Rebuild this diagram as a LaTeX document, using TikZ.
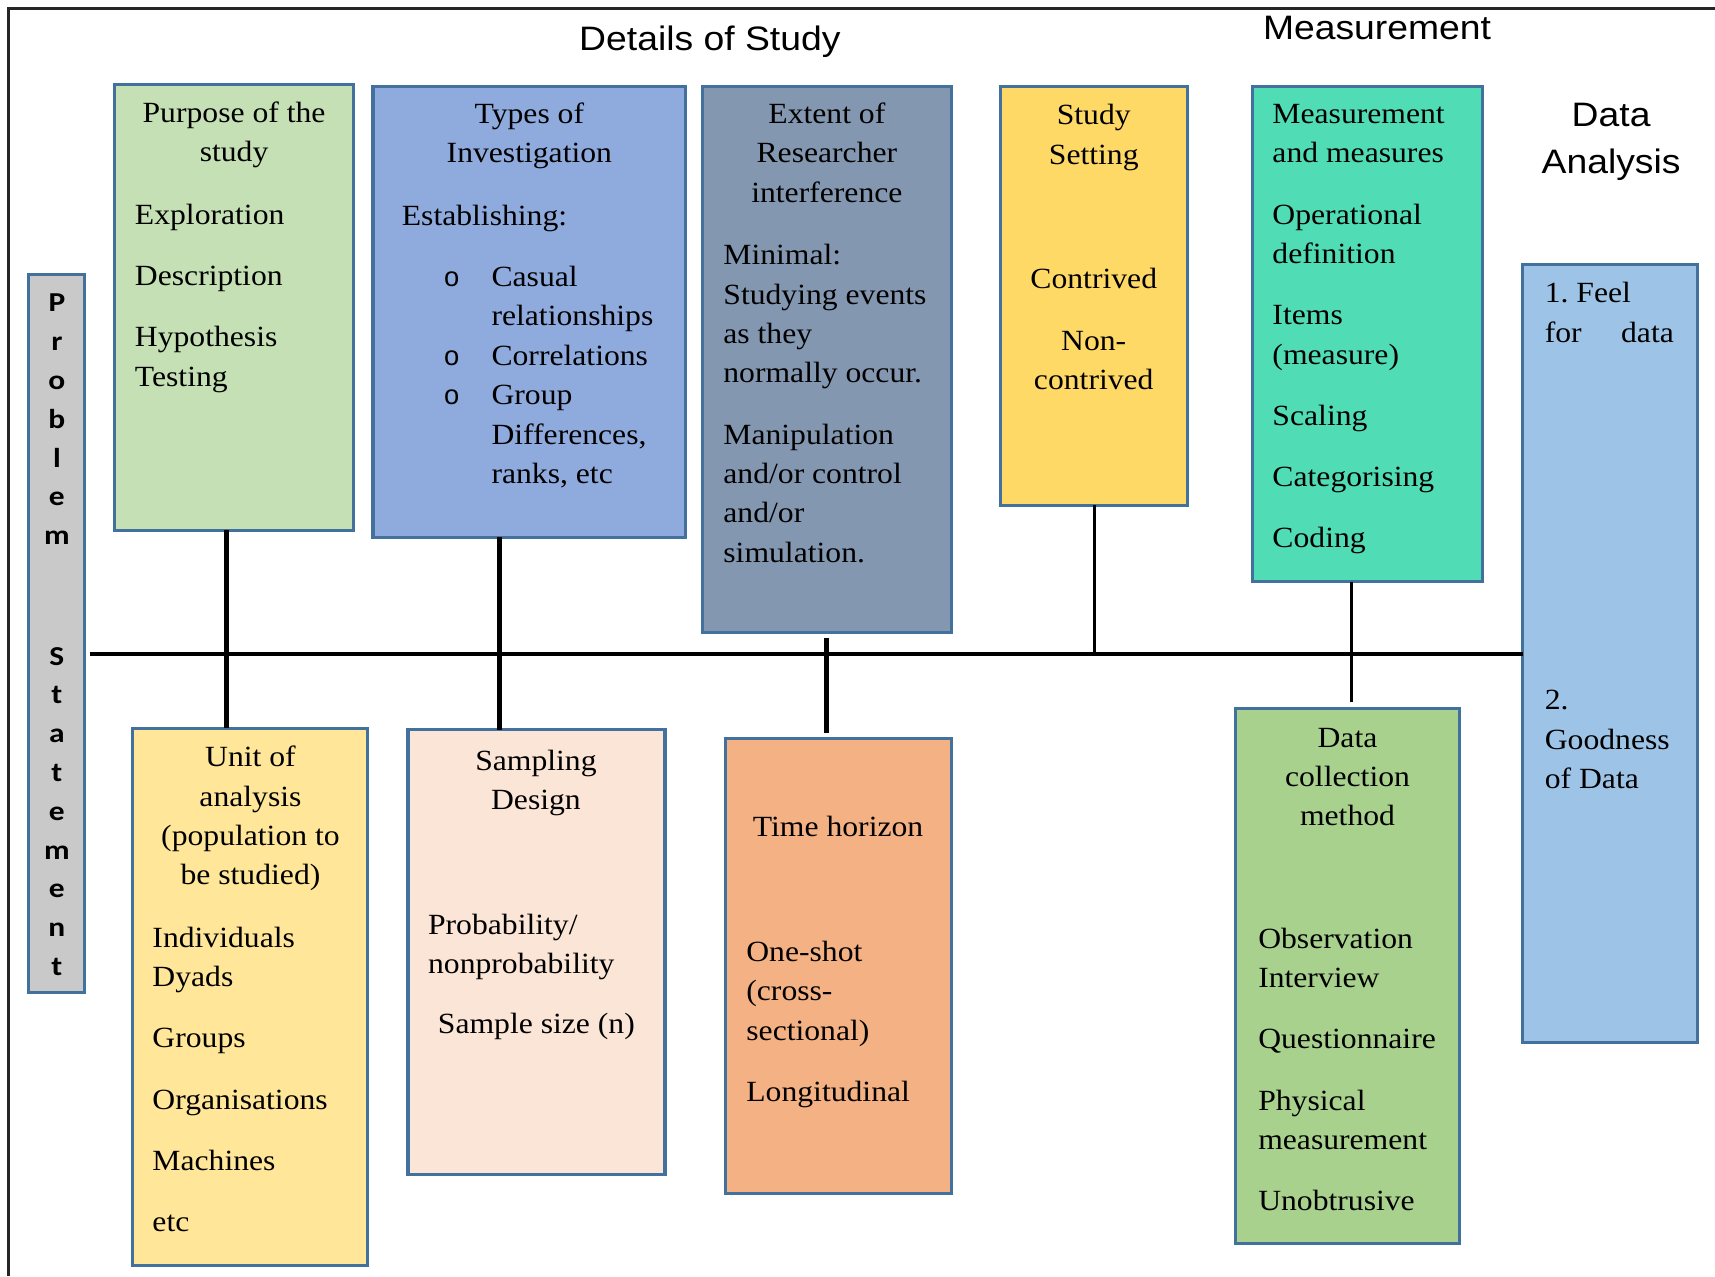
\documentclass[tikz,border=0pt]{standalone}
\usepackage{fontspec}
\setmainfont{Liberation Serif}[FakeStretch=1.08]
\newfontfamily\headsans{Liberation Sans}[FakeStretch=1.1]
\newfontfamily\sidesans{Carlito}[FakeStretch=1.15]
\newfontfamily\bulletfont{Liberation Sans}

\definecolor{edgeblue}{HTML}{41719C}
\definecolor{probgray}{HTML}{C9C9C9}
\definecolor{purposegreen}{HTML}{C5E0B4}
\definecolor{typesblue}{HTML}{8FAADC}
\definecolor{extentslate}{HTML}{8497B0}
\definecolor{settingyellow}{HTML}{FFD966}
\definecolor{measuremint}{HTML}{50DCB4}
\definecolor{analysisblue}{HTML}{9DC3E6}
\definecolor{unityellow}{HTML}{FFE699}
\definecolor{samplingpeach}{HTML}{FBE5D6}
\definecolor{timeorange}{HTML}{F4B183}
\definecolor{collectgreen}{HTML}{A9D18E}

\newcommand\bodysize{\frenchspacing\fontsize{13.4}{18}\selectfont}
\newcommand\leftcol[2]{\parbox[t]{#1}{\raggedright #2}}
\newcommand\midcol[2]{\parbox[t]{#1}{\centering #2}}

\begin{document}
\begin{tikzpicture}[x=0.5pt, y=-0.5pt,
  panel/.style={draw=edgeblue, line width=1.4pt, inner sep=0pt, outer sep=0pt, anchor=north west},
  body/.style={inner sep=0pt, anchor=base west, font=\bodysize},
  head/.style={inner sep=0pt, anchor=base, font=\bodysize},
  title/.style={inner sep=0pt, anchor=base, font=\headsans\fontsize{15.5}{21.5}\selectfont},
  spine/.style={line width=1.8pt},
  linkthick/.style={line width=2.3pt},
  linkthin/.style={line width=1.4pt}]

\useasboundingbox (0,0) rectangle (1568,1167);

% outer frame (top and left edges)
\draw[line width=1.5pt, black!85] (8,1167) -- (8,8) -- (1568,8);

% headings
\node[title] (details) at (649,46) {Details of Study};
\node[title] (measurement) at (1259,36) {Measurement};
\node[title] (dataanalysis) at (1473,116) {\midcol{80pt}{Data\\Analysis}};

% upper panels
\node[panel, fill=purposegreen, minimum width=109pt, minimum height=204pt] (purpose) at (105,77) {};
\node[panel, fill=typesblue, minimum width=143pt, minimum height=206pt] (types) at (341,79) {};
\node[panel, fill=extentslate, minimum width=114pt, minimum height=249.5pt] (extent) at (642,79) {};
\node[panel, fill=settingyellow, minimum width=85.5pt, minimum height=191.5pt] (setting) at (915,79) {};
\node[panel, fill=measuremint, minimum width=105pt, minimum height=226.5pt] (measure) at (1145,79) {};
\node[panel, fill=analysisblue, minimum width=80pt, minimum height=355.5pt] (analysis) at (1392,242) {};
\node[panel, fill=probgray, minimum width=25.5pt, minimum height=328pt] (problem) at (26,251) {};

% lower panels
\node[panel, fill=unityellow, minimum width=107.5pt, minimum height=245.5pt] (unit) at (121,666) {};
\node[panel, fill=samplingpeach, minimum width=117.5pt, minimum height=203.5pt] (sampling) at (373,667) {};
\node[panel, fill=timeorange, minimum width=103.5pt, minimum height=208pt] (time) at (663,675) {};
\node[panel, fill=collectgreen, minimum width=102pt, minimum height=244.5pt] (collect) at (1130,648) {};

% central spine and its branches
\coordinate (spinestart) at (82,598);
\draw[spine] (spinestart) -- (spinestart -| analysis.west);

\coordinate (purposefoot) at ([xshift=-3.5pt]purpose.south);
\draw[linkthick] (purposefoot) -- (purposefoot |- unit.north);
\coordinate (typesfoot) at ([xshift=-13.5pt]types.south);
\draw[linkthick] (typesfoot) -- (typesfoot |- sampling.north);
\coordinate (extentfoot) at ([yshift=-2.5pt]extent.south);
\coordinate (timetop) at ([yshift=2.5pt]extentfoot |- time.north);
\draw[linkthick] (extentfoot) -- (timetop);
\draw[linkthin] (setting.south) -- (setting.south |- spinestart);
\coordinate (measurefoot) at ([xshift=-7pt]measure.south);
\coordinate (collecttop) at ([yshift=3pt]measurefoot |- collect.north);
\draw[linkthin] (measurefoot) -- (collecttop);

% problem statement, written letter by letter
\node[inner sep=0pt, anchor=base, font=\sidesans\bfseries\fontsize{12.5}{17.75}\selectfont] (problemtext) at (52,285)
  {\midcol{14pt}{P\\r\\o\\b\\l\\e\\m\\[37.25pt]S\\t\\a\\t\\e\\m\\e\\n\\t}};

% purpose of the study
\node[head] (purposehead) at (214,112) {\midcol{105pt}{Purpose of the\\study}};
\node[body] (purposebody) at (123,205) {\leftcol{100pt}{Exploration\\[10pt]Description\\[10pt]Hypothesis\\Testing}};

% types of investigation
\node[head] (typeshead) at (484,113) {\midcol{130pt}{Types of\\Investigation}};
\node[body] (typesintro) at (367,206) {Establishing:};
\node[inner sep=0pt, anchor=base, font=\bulletfont\fontsize{12.5}{18}\selectfont] (typesbullets) at (413,262)
  {\midcol{10pt}{o\\\mbox{}\\o\\o}};
\node[body] (typesbody) at (449,262) {\leftcol{85pt}{Casual\\relationships\\Correlations\\Group\\Differences,\\ranks, etc}};

% extent of researcher interference
\node[head] (extenthead) at (756,113) {\midcol{110pt}{Extent of\\Researcher\\interference}};
\node[body] (extentbody) at (661,242) {\leftcol{104pt}{Minimal:\\Studying events\\as they\\normally occur.\\[10pt]Manipulation\\and/or control\\and/or\\simulation.}};

% study setting
\node[head] (settinghead) at (1000,114) {\midcol{80pt}{Study\\Setting\\[39pt]Contrived\\[10pt]Non-\\contrived}};

% measurement and measures
\node[body] (measurebody) at (1163,113) {\leftcol{95pt}{Measurement\\and measures\\[10pt]Operational\\definition\\[10pt]Items\\(measure)\\[10pt]Scaling\\[10pt]Categorising\\[10pt]Coding}};

% data analysis
\node[body] (feel) at (1412,277) {\leftcol{59pt}{1. Feel\\\hbox to 59pt{for\hfill data}}};
\node[body] (goodness) at (1412,649) {\leftcol{59pt}{2.\\Goodness\\of Data}};

% unit of analysis
\node[head] (unithead) at (229,701) {\midcol{105pt}{Unit of\\analysis\\(population to\\be studied)}};
\node[body] (unitbody) at (139,866) {\leftcol{95pt}{Individuals\\Dyads\\[10pt]Groups\\[10pt]Organisations\\[10pt]Machines\\[10pt]etc}};

% sampling design
\node[head] (samplinghead) at (490,704) {\midcol{110pt}{Sampling\\Design}};
\node[body] (samplingprob) at (391,854) {\leftcol{105pt}{Probability/\\nonprobability}};
\node[body] (samplingsize) at (400,945) {Sample size (n)};

% time horizon
\node[body] (timehead) at (688,765) {Time horizon};
\node[body] (timebody) at (682,879) {\leftcol{95pt}{One-shot\\(cross-\\sectional)\\[10pt]Longitudinal}};

% data collection method
\node[head] (collecthead) at (1232,683) {\midcol{98pt}{Data\\collection\\method}};
\node[body] (collectbody) at (1150,867) {\leftcol{92pt}{Observation\\Interview\\[10pt]Questionnaire\\[10pt]Physical\\measurement\\[10pt]Unobtrusive}};

\end{tikzpicture}
\end{document}
